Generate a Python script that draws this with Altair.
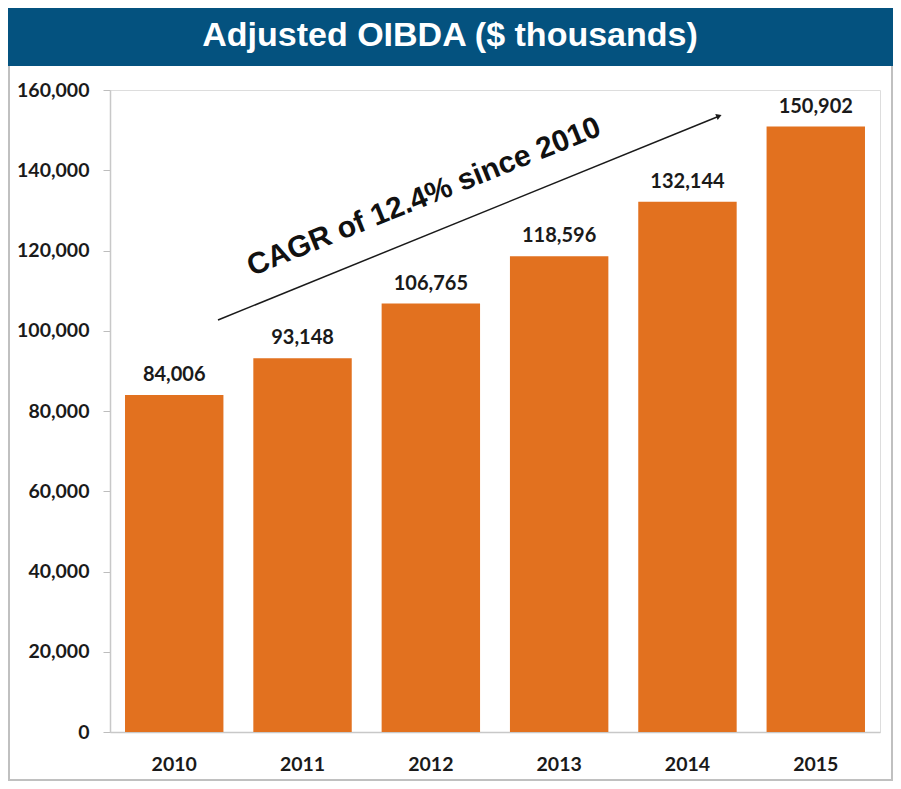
import altair as alt
import pandas as pd

years = ["2010", "2011", "2012", "2013", "2014", "2015"]
values = [84006, 93148, 106765, 118596, 132144, 150902]
title_text = "Adjusted OIBDA ($ thousands)"
note_text = "CAGR of 12.4% since 2010"

df = pd.DataFrame({"year": years, "value": values})

W, H = 770, 642
x_enc = alt.X("year:N", sort=years, title=None,
              scale=alt.Scale(paddingInner=0.233, paddingOuter=0.117),
              axis=alt.Axis(labelAngle=0, labelFont="Lato", labelFontWeight="bold",
                            labelFontSize=19.5, labelColor="#1a1a1a", labelPadding=23,
                            ticks=False, domainColor="#c8c8c8", domainWidth=1.5))
y_enc = alt.Y("value:Q", title=None,
              scale=alt.Scale(domain=[0, 160000], nice=False),
              axis=alt.Axis(values=list(range(0, 160001, 20000)), format=",d",
                            labelFont="Lato", labelFontWeight="bold", labelFontSize=19.5,
                            labelColor="#1a1a1a", labelPadding=14, tickSize=7,
                            tickColor="#bdbdbd", domainColor="#c8c8c8", domainWidth=1.5,
                            grid=False))

base = alt.Chart(df)
bars = base.mark_bar(color="#E2711F").encode(x=x_enc, y=y_enc)
labels = base.mark_text(font="Lato", fontWeight="bold", fontSize=20, color="#1a1a1a",
                        baseline="alphabetic", dy=-14).encode(
    x=alt.X("year:N", sort=years), y="value:Q", text=alt.Text("value:Q", format=",d"))

one = pd.DataFrame({"k": [0]})
border = alt.Chart(one).mark_rect(fill=None, stroke="#c0c0c0", strokeWidth=2, clip=False).encode(
    x=alt.value(-101), x2=alt.value(782), y=alt.value(-25), y2=alt.value(690))
bar_top = alt.Chart(one).mark_rect(color="#04527F", clip=False).encode(
    x=alt.value(-102), x2=alt.value(783), y=alt.value(-82), y2=alt.value(-24))
title = alt.Chart(pd.DataFrame({"t": [title_text]})).mark_text(
    font="Liberation Sans", fontWeight="bold", fontSize=34, color="white",
    align="center", baseline="middle", clip=False).encode(
    x=alt.value(340), y=alt.value(-54), text="t:N")
arrow = alt.Chart(one).mark_rule(color="#1a1a1a", strokeWidth=1.5).encode(
    x=alt.value(108), y=alt.value(230), x2=alt.value(607), y2=alt.value(27))
head = alt.Chart(one).mark_point(shape="triangle-up", filled=True, color="#1a1a1a",
                                  size=40, angle=68, opacity=1).encode(
    x=alt.value(609), y=alt.value(26))
note = alt.Chart(pd.DataFrame({"t": [note_text]})).mark_text(
    font="Liberation Sans", fontWeight="bold", fontSize=30, color="#111111",
    align="center", baseline="middle", angle=338).encode(
    x=alt.value(314), y=alt.value(107), text="t:N")

chart = alt.layer(border, bar_top, title, bars, labels, arrow, head, note).properties(
    width=W, height=H,
    autosize=alt.AutoSizeParams(type="none"),
    padding={"left": 102, "top": 82, "right": 13, "bottom": 49},
).configure_view(stroke=None).configure(background="white")

chart.save("out.html", embed_options={"renderer": "svg", "actions": False})
